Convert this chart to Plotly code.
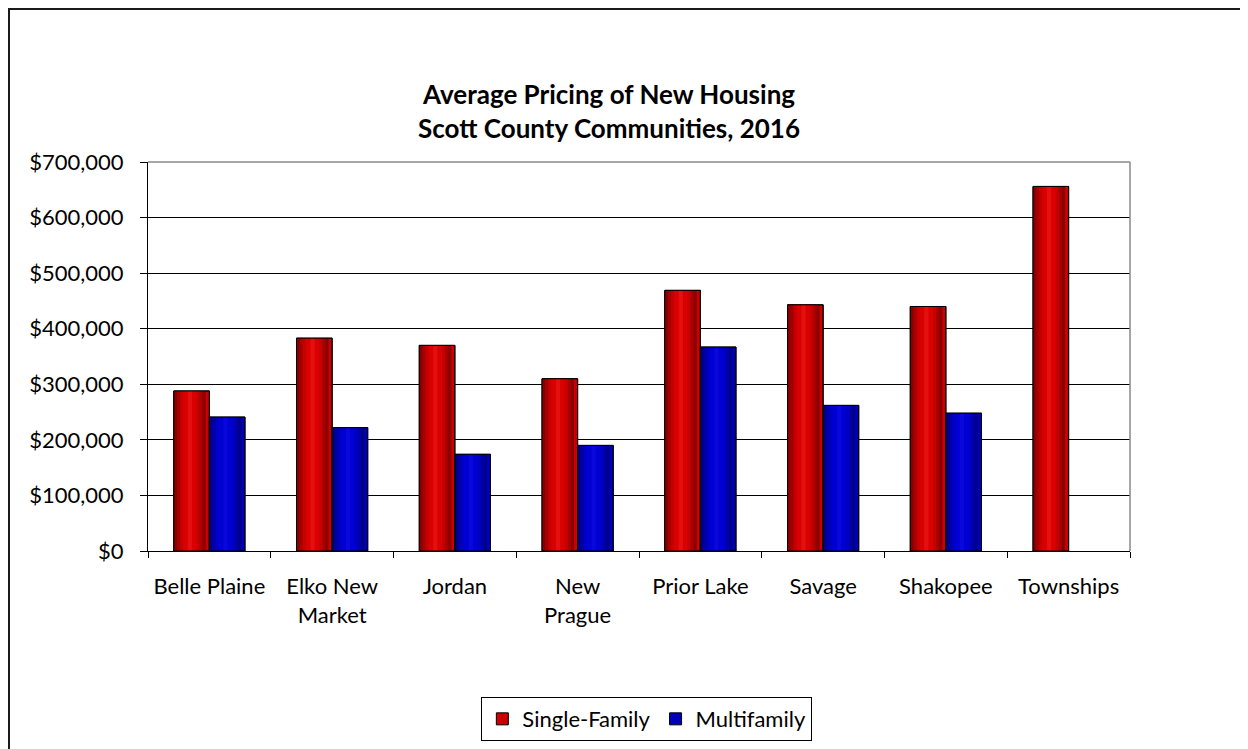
import plotly.graph_objects as go

# datos
comunidades = ["Belle Plaine", "Elko New<br>Market", "Jordan", "New<br>Prague",
               "Prior Lake", "Savage", "Shakopee", "Townships"]
unifamiliar = [288000, 383000, 370000, 310000, 469000, 443000, 440000, 656000]
multifamiliar = [241000, 222000, 174000, 190000, 367000, 262000, 248000, None]
ticks_y = [0, 100000, 200000, 300000, 400000, 500000, 600000, 700000]
etiquetas_y = ["$0", "$100,000", "$200,000", "$300,000", "$400,000",
               "$500,000", "$600,000", "$700,000"]

fuente = "Lato, 'Open Sans', sans-serif"
ancho = 0.29

fig = go.Figure()


def barras(y, nombre, base, capas, desplaz):
    # barra base con borde y leyenda
    fig.add_trace(go.Bar(x=comunidades, y=y, name=nombre, width=ancho, offset=desplaz,
                         marker=dict(color=base, line=dict(color="black", width=1)),
                         hoverinfo="skip"))
    # capas para simular el degradado cilindrico
    for frac, col in capas:
        w = ancho * frac
        fig.add_trace(go.Bar(x=comunidades, y=y, width=w,
                             offset=desplaz + ancho * 0.45 - w / 2,
                             marker=dict(color=col, line=dict(width=0)),
                             showlegend=False, hoverinfo="skip"))
    # contorno encima
    fig.add_trace(go.Bar(x=comunidades, y=y, width=ancho, offset=desplaz,
                         marker=dict(color="rgba(0,0,0,0)", line=dict(color="black", width=1)),
                         showlegend=False, hoverinfo="skip"))


barras(unifamiliar, "Single-Family", "#cc0000",
       [(0.9, "#8a0000"), (0.72, "#a80000"), (0.55, "#c40000"), (0.38, "#d80000"), (0.12, "#e41010")],
       -ancho)
barras(multifamiliar, "Multifamily", "#0000bb",
       [(0.9, "#000088"), (0.72, "#0000a8"), (0.55, "#0000c2"), (0.38, "#0000d4"), (0.12, "#0808dc")],
       0)

fig.update_layout(
    width=1248, height=749,
    paper_bgcolor="white", plot_bgcolor="white",
    barmode="overlay",
    margin=dict(l=140, r=126, t=154, b=206),
    font=dict(family=fuente, size=22, color="black"),
    title=dict(text="<b>Average Pricing of New Housing<br>Scott County Communities, 2016</b>",
               x=0.4816, xanchor="center", y=1 - 96 / 749, yanchor="middle",
               yref="container", font=dict(size=26)),
    xaxis=dict(type="category", showline=True, linecolor="black", linewidth=1,
               ticks="outside", tickson="boundaries", ticklen=6, tickcolor="black",
               showgrid=False, tickfont=dict(size=22), ticklabelstandoff=16),
    yaxis=dict(range=[0, 700000], tickvals=ticks_y, ticktext=etiquetas_y,
               showline=True, linecolor="black", linewidth=1,
               ticks="outside", ticklen=7, tickcolor="black",
               showgrid=True, gridcolor="black", gridwidth=1,
               zeroline=False, tickfont=dict(size=22), ticklabelstandoff=12),
    legend=dict(orientation="h", x=0.508, xanchor="center", y=-0.432, yanchor="middle",
                bordercolor="black", borderwidth=1, font=dict(size=22),
                traceorder="normal"),
    shapes=[
        # marco exterior del grafico
        dict(type="rect", xref="paper", yref="paper", x0=(1 - 140) / 982, x1=1.3,
             y0=-0.6, y1=(543 - 1) / 389, line=dict(color="#1a1a1a", width=2), layer="below"),
        # borde gris superior y derecho del area de trazado
        dict(type="line", xref="paper", yref="paper", x0=0, x1=1, y0=1, y1=1,
             line=dict(color="#888888", width=1.5)),
        dict(type="line", xref="paper", yref="paper", x0=1, x1=1, y0=0, y1=1,
             line=dict(color="#888888", width=1.5)),
    ],
)

fig.write_html("out.html")
